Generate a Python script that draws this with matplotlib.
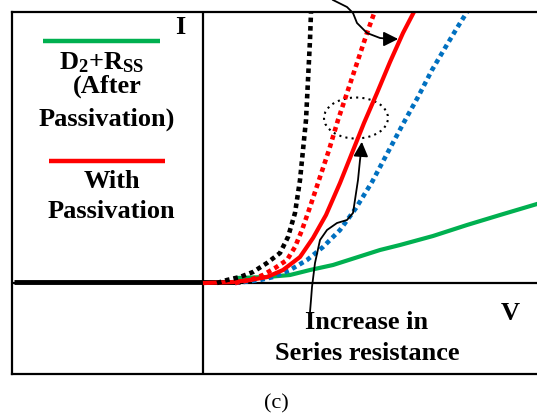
import numpy as np
import matplotlib
matplotlib.use('Agg')
import matplotlib.pyplot as plt
from matplotlib.patches import Ellipse

plt.rcParams['font.family'] = 'Liberation Serif'
plt.rcParams['mathtext.fontset'] = 'custom'
plt.rcParams['mathtext.rm'] = 'Liberation Serif:bold'
plt.rcParams['mathtext.default'] = 'rm'

# Schematic I-V curves (arbitrary units, origin at the axes crossing)
black_v = [0.14, 0.24, 0.37, 0.50, 0.64, 0.77, 0.85, 0.92, 0.97, 1.00, 1.03, 1.05, 1.07, 1.08, 1.09]
black_i = [0.00, 0.03, 0.06, 0.11, 0.20, 0.30, 0.46, 0.70, 1.03, 1.33, 1.63, 2.03, 2.43, 2.71, 2.83]

red_dot_v = [0.32, 0.47, 0.60, 0.72, 0.84, 0.92, 0.99, 1.07, 1.16, 1.26, 1.35, 1.45, 1.55, 1.64, 1.73]
red_dot_i = [0.00, 0.03, 0.08, 0.15, 0.23, 0.36, 0.53, 0.76, 1.03, 1.33, 1.63, 1.93, 2.23, 2.50, 2.75]

red_v = [0.02, 0.30, 0.47, 0.64, 0.80, 0.97, 1.10, 1.23, 1.37, 1.49, 1.61, 1.74, 1.87, 2.00, 2.13, 2.15]
red_i = [0.00, 0.01, 0.03, 0.06, 0.13, 0.26, 0.45, 0.68, 1.00, 1.30, 1.60, 1.90, 2.21, 2.50, 2.75, 2.80]

blue_v = [0.32, 0.57, 0.70, 0.87, 1.04, 1.20, 1.37, 1.53, 1.69, 1.85, 2.00, 2.15, 2.29, 2.42, 2.54, 2.64, 2.69]
blue_i = [0.00, 0.03, 0.06, 0.13, 0.23, 0.36, 0.53, 0.75, 1.01, 1.31, 1.59, 1.86, 2.13, 2.35, 2.55, 2.71, 2.80]

green_v = [0.34, 0.64, 0.87, 1.07, 1.30, 1.77, 1.97, 2.30, 2.64, 2.97, 3.34]
green_i = [0.05, 0.06, 0.08, 0.13, 0.18, 0.33, 0.38, 0.47, 0.58, 0.68, 0.79]

# annotation paths
arrow1_v = [1.30, 1.44, 1.50, 1.54, 1.64, 1.77, 1.87]
arrow1_i = [2.83, 2.76, 2.70, 2.60, 2.50, 2.45, 2.44]
arrow2_v = [1.07, 1.08, 1.09, 1.12, 1.17, 1.24, 1.34, 1.44, 1.50, 1.55, 1.57, 1.58]
arrow2_i = [-0.29, -0.17, -0.04, 0.20, 0.43, 0.53, 0.60, 0.63, 0.70, 1.03, 1.23, 1.31]

fig = plt.figure(figsize=(5.37, 4.15), dpi=100)
ax = fig.add_axes([12 / 537, 41 / 415, 525 / 537, 362 / 415])
ax.set_xlim(-1.91, 3.34)
ax.set_ylim(-0.91, 2.71)
ax.set_xticks([])
ax.set_yticks([])
for s in ['left', 'top', 'bottom']:
    ax.spines[s].set_linewidth(1.6)
ax.spines['right'].set_visible(False)

ax.axhline(0, color='black', lw=1.6)
ax.axvline(0, color='black', lw=1.6)
ax.plot([-1.89, 0.37], [0.01, 0.01], color='black', lw=3.5, solid_capstyle='butt')

dots = (0, (1.0, 0.85))
ax.plot(green_v, green_i, color='#00B050', lw=3.0)
ax.plot(blue_v, blue_i, color='#0070C0', lw=3.3, linestyle=dots)
ax.plot(red_v, red_i, color='#FF0000', lw=3.0)
ax.plot(red_dot_v, red_dot_i, color='#FF0000', lw=3.3, linestyle=dots)
ax.plot(black_v, black_i, color='black', lw=3.3, linestyle=dots)

ax.add_patch(Ellipse((1.53, 1.65), 0.64, 0.41, fill=False, ls=(0, (1, 2)),
                     lw=1.5, color='black'))

ax.plot(arrow1_v, arrow1_i, color='black', lw=1.3, clip_on=False)
ax.annotate('', xy=(1.98, 2.44), xytext=(1.85, 2.44),
            arrowprops=dict(arrowstyle='-|>', mutation_scale=22, lw=1.3, color='black'),
            annotation_clip=False)
ax.plot(arrow2_v, arrow2_i, color='black', lw=1.3)
ax.annotate('', xy=(1.59, 1.44), xytext=(1.58, 1.29),
            arrowprops=dict(arrowstyle='-|>', mutation_scale=22, lw=1.3, color='black'))

# legend drawn by hand in the upper-left panel
ax.plot([-1.60, -0.43], [2.42, 2.42], color='#00B050', lw=3.2, solid_capstyle='butt')
ax.plot([-1.54, -0.38], [1.22, 1.22], color='#FF0000', lw=3.2, solid_capstyle='butt')

bold = dict(fontsize=19, fontweight='bold', ha='center', va='center')
ax.text(-1.01, 2.20, r'D$_{2}$+R$_{SS}$', **bold)
ax.text(-0.96, 1.97, '(After', **bold)
ax.text(-0.96, 1.64, 'Passivation)', **bold)
ax.text(-0.91, 1.01, 'With', **bold)
ax.text(-0.92, 0.72, 'Passivation', **bold)
ax.text(-0.23, 2.55, 'I', **bold)
ax.text(3.07, -0.30, 'V', **bold)
ax.text(1.64, -0.39, 'Increase in', **bold)
ax.text(1.64, -0.70, 'Series resistance', **bold)

fig.text(276 / 537, 1 - 404 / 415, '(c)', fontsize=16, ha='center', va='center')

fig.savefig('out.png', dpi=100)
